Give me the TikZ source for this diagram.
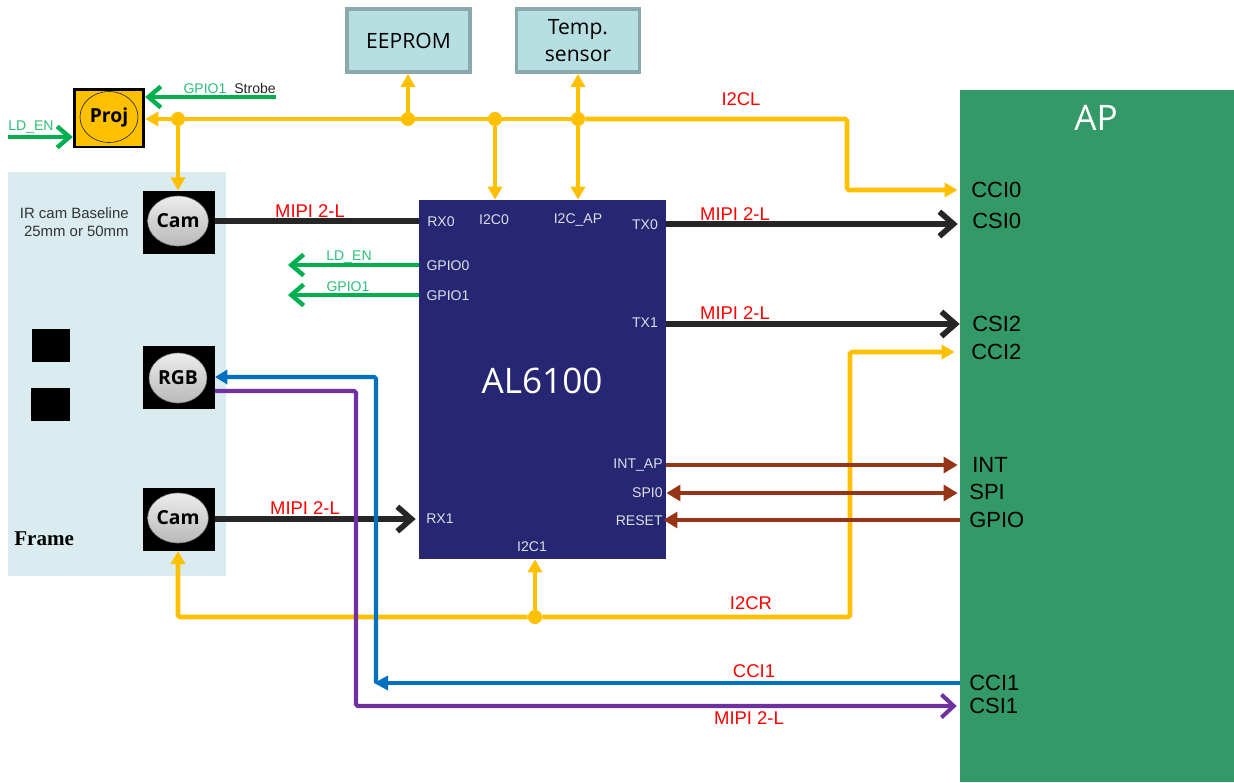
\documentclass[tikz,border=0pt]{standalone}
\usepackage{fontspec}
\setmainfont{Liberation Sans}
\newfontfamily\boxfont{Open Sans}
\newfontfamily\framefont{Liberation Serif}
\usepackage{xcolor}
\usetikzlibrary{calc}
\usetikzlibrary{arrows.meta}
\usetikzlibrary{shapes.geometric}
\definecolor{busyellow}{HTML}{FFC000}
\definecolor{gpiogreen}{HTML}{00B050}
\definecolor{mipiblack}{HTML}{262626}
\definecolor{cciblue}{HTML}{0070C0}
\definecolor{csipurple}{HTML}{7030A0}
\definecolor{spibrown}{HTML}{963417}
\definecolor{chipnavy}{HTML}{262673}
\definecolor{apgreen}{HTML}{339966}
\definecolor{framefill}{HTML}{DAECEF}
\definecolor{memfill}{HTML}{B7DEE0}
\definecolor{memline}{HTML}{8AA9AB}
\definecolor{labelgreen}{HTML}{2DBE78}
\tikzset{
    bus/.style={line width=2.6pt, busyellow, -{Triangle[length=7.5pt,width=8pt]}},
    mipi/.style={line width=3.2pt, mipiblack, -{Straight Barb[length=8pt,width=14pt,line width=3.2pt]}},
    gpio/.style={line width=2.5pt, gpiogreen, -{Straight Barb[length=7pt,width=12pt,line width=2.5pt]}},
    spi/.style={line width=2.3pt, spibrown, -{Triangle[length=8pt,width=9pt]}},
    memory/.style={draw=memline, line width=2pt, fill=memfill, minimum width=70pt, minimum height=36pt, align=center, font=\boxfont\fontsize{12}{15}\selectfont, text=black},
    sensor/.style={fill=black, minimum width=41pt, minimum height=36pt, inner sep=0pt},
    lens/.style={ellipse, draw=black!60, line width=0.3pt, top color=gray!15, bottom color=gray!55, minimum width=33pt, minimum height=28.5pt, inner sep=0pt, font=\boxfont\bfseries\fontsize{11}{12}\selectfont},
    pinlabel/.style={text=white!85!chipnavy, font=\fontsize{8}{10}\selectfont, inner sep=0pt},
    aplabel/.style={text=black, font=\fontsize{12.5}{14}\selectfont, inner sep=0pt, anchor=west},
    redlabel/.style={text=red, font=\fontsize{10.5}{12}\selectfont, inner sep=0pt},
    greenlabel/.style={text=labelgreen, font=\fontsize{8}{10}\selectfont, inner sep=0pt},
    dot/.style={circle, fill=busyellow, minimum size=8pt, inner sep=0pt}
}
\begin{document}
\begin{tikzpicture}[x=0.02cm,y=-0.02cm]
    \useasboundingbox (0,0) rectangle (1234,782);

    %FRAME
    \fill[framefill] (8,172) rectangle (226,576);
    \node[text=black!80, font=\fontsize{8.5}{10}\selectfont, inner sep=0pt, align=right, anchor=east] (baseline) at (129,222) {IR cam Baseline\\25mm or 50mm};
    \node[text=black, font=\framefont\bfseries\fontsize{12}{14}\selectfont, inner sep=0pt, anchor=west] (framename) at (14,539) {Frame};
    \node[fill=black, minimum width=22pt, minimum height=19pt, inner sep=0pt] (blocka) at (51,345.5) {};
    \node[fill=black, minimum width=22pt, minimum height=19pt, inner sep=0pt] (blockb) at (50.5,404.5) {};

    %CHIP AND AP
    \node[fill=apgreen, minimum width=155.9pt, minimum height=393.7pt, inner sep=0pt] (ap) at (1097,436) {};
    \node[text=white, font=\boxfont\fontsize{20}{22}\selectfont, inner sep=0pt] (aptitle) at (1096,118) {AP};
    \node[fill=chipnavy, minimum width=140.6pt, minimum height=204.2pt, inner sep=0pt] (chip) at (542.5,379.5) {};
    \node[text=white, font=\boxfont\fontsize{20}{22}\selectfont, inner sep=0pt] (chipname) at (542,381) {AL6100};

    %MEMORY AND SENSOR
    \node[memory] (eeprom) at (408.5,40.5) {EEPROM};
    \node[memory] (temp) at (578,40.5) {Temp.\\sensor};

    %PROJECTOR AND CAMERAS
    \node[fill=busyellow, draw=black, line width=1.7pt, minimum width=39.5pt, minimum height=33pt, inner sep=0pt] (projbox) at (109,118) {};
    \node[ellipse, draw=black!80, fill=busyellow, minimum width=33pt, minimum height=29pt, inner sep=0pt, font=\boxfont\bfseries\fontsize{11}{12}\selectfont] (proj) at (109,117) {Proj};
    \node[sensor] (camtopbox) at (179,222.5) {};
    \node[lens] (camtop) at (178,221) {Cam};
    \node[sensor] (rgbbox) at (179,377.5) {};
    \node[lens] (rgb) at (178,378) {RGB};
    \node[sensor] (cambotbox) at (179,519.5) {};
    \node[lens] (cambot) at (178,518) {Cam};

    %PINS OF THE CHIP
    \node[pinlabel] (rxzero) at (441,222) {RX0};
    \node[pinlabel] (ictwo) at (494,220) {I2C0};
    \node[pinlabel] (icap) at (578,220) {I2C\_AP};
    \node[pinlabel] (txzero) at (645,225) {TX0};
    \node[pinlabel] (gpiozero) at (448,266) {GPIO0};
    \node[pinlabel] (gpioone) at (448,296) {GPIO1};
    \node[pinlabel] (txone) at (645,323) {TX1};
    \node[pinlabel, anchor=east] (intap) at (663,465) {INT\_AP};
    \node[pinlabel, anchor=east] (spizero) at (663,493) {SPI0};
    \node[pinlabel, anchor=east] (reset) at (663,521) {RESET};
    \node[pinlabel] (rxone) at (440,519) {RX1};
    \node[pinlabel] (icone) at (532,547) {I2C1};

    %PINS OF THE AP
    \node[aplabel] (ccizero) at (971,190) {CCI0};
    \node[aplabel] (csizero) at (972,221) {CSI0};
    \node[aplabel] (csitwo) at (972,324) {CSI2};
    \node[aplabel] (ccitwo) at (971,352) {CCI2};
    \node[aplabel] (intpin) at (972,465) {INT};
    \node[aplabel] (spipin) at (969,492) {SPI};
    \node[aplabel] (gpiopin) at (969,520) {GPIO};
    \node[aplabel] (cciapone) at (969,683) {CCI1};
    \node[aplabel] (csione) at (969,706) {CSI1};

    %FREE ENDS AND JUNCTIONS
    \coordinate (strobe) at (276,97);
    \coordinate (ldin) at (8,137);
    \coordinate (ldout) at (288,265);
    \coordinate (gpout) at (288,295);
    \coordinate (txzeroline) at (666,224);
    \coordinate (rgbin) at (215,377);
    \coordinate (rgbout) at (215,391);
    \node[dot] (jproj) at (178,119) {};
    \node[dot] (jeeprom) at (408,119) {};
    \node[dot] (jzero) at (495,119) {};
    \node[dot] (jtemp) at (578,119) {};
    \node[dot] (jright) at (535,617) {};

    %I2C LEFT
    \draw[bus] (jproj) -- (projbox.east |- jproj);
    \draw[bus] (jproj) -- (jproj |- camtopbox.north);
    \draw[bus] (jeeprom) -- (jeeprom |- eeprom.south);
    \draw[bus] (jzero) -- (jzero |- chip.north);
    \draw[bus] (jtemp) -- (temp.south);
    \draw[bus] (jtemp) -- (jtemp |- chip.north);
    \draw[bus, -] (jproj) -- (jtemp);
    \draw[bus, rounded corners=1pt] (jtemp) -- (847,119) -- (847,190) -- ($(ap.west |- ccizero)+(-2,0)$);

    %I2C RIGHT
    \draw[bus] (jright) -- (jright |- chip.south);
    \draw[bus, rounded corners=1pt] (jright) -- (178,617) -- (178,551);
    \draw[bus, rounded corners=1pt] (jright) -- (850,617) -- (850,352) -- ($(ap.west |- ccitwo)+(-5,0)$);

    %MIPI
    \draw[mipi, -] (camtopbox.east |- camtop) -- (chip.west |- camtop);
    \draw[mipi] (txzeroline) -- ($(ap.west |- txzeroline)+(-2,0)$);
    \draw[mipi] (chip.east |- csitwo) -- (ap.west |- csitwo);
    \draw[mipi] (cambotbox.east |- rxone) -- ($(chip.west |- rxone)+(-3,0)$);

    %GPIO
    \draw[gpio] (strobe) -- (projbox.east |- strobe);
    \draw[gpio] (ldin) -- (projbox.west |- ldin);
    \draw[gpio] (chip.west |- ldout) -- (ldout);
    \draw[gpio] (chip.west |- gpout) -- (gpout);

    %SPI AND RESET
    \draw[spi] (chip.east |- intap) -- ($(ap.west |- intap)+(-2,0)$);
    \draw[spi, {Triangle[length=8pt,width=9pt]}-{Triangle[length=8pt,width=9pt]}] (chip.east |- spizero) -- ($(ap.west |- spizero)+(-2,0)$);
    \draw[spi] (ap.west |- gpiopin) -- ($(chip.east |- gpiopin)+(-3,0)$);

    %CCI1 AND CSI1
    \draw[line width=2.3pt, cciblue, -{Triangle[length=7pt,width=8pt]}, rounded corners=1pt] (376,683) -- (376,377) -- (rgbin);
    \draw[line width=2.3pt, cciblue, -{Triangle[length=8pt,width=8pt]}] (ap.west |- cciapone) -- (374,683);
    \draw[line width=2.3pt, csipurple, -{Straight Barb[length=7pt,width=13pt,line width=2.3pt]}, rounded corners=1pt] (rgbout) -- (356,391) -- (356,706) -- ($(ap.west |- csione)+(-3,0)$);

    %LABELS ON THE LINES
    \node[redlabel] (itcl) at (741,99) {I2CL};
    \node[redlabel] (mipia) at (310,211) {MIPI 2-L};
    \node[redlabel] (mipib) at (735,214) {MIPI 2-L};
    \node[redlabel] (mipic) at (735,313) {MIPI 2-L};
    \node[redlabel] (mipid) at (305,508) {MIPI 2-L};
    \node[redlabel] (itcr) at (751,603) {I2CR};
    \node[redlabel] (cciname) at (754,671) {CCI1};
    \node[redlabel] (mipie) at (749,718) {MIPI 2-L};
    \node[greenlabel] (ldtop) at (349,257) {LD\_EN};
    \node[greenlabel] (gptop) at (348,287) {GPIO1};
    \node[greenlabel] (ldleft) at (31,127) {LD\_EN};
    \node[greenlabel] (gpstrobe) at (205,89) {GPIO1};
    \node[text=black!85, font=\fontsize{8}{10}\selectfont, inner sep=0pt] (strobename) at (255,88) {Strobe};
\end{tikzpicture}
\end{document}
